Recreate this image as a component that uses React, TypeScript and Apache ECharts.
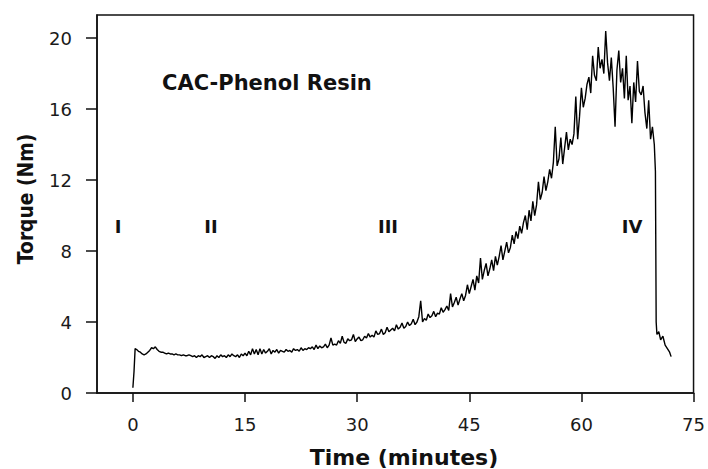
import React, { useEffect, useRef } from "react";
import * as echarts from "echarts";

// Tick labels
const xTicks = [0, 15, 30, 45, 60, 75];
const yTicks = [0, 4, 8, 12, 16, 20];

// Onset of the torque trace (time in minutes, torque in Nm)
const onsetTimes = [0, 0.15, 0.3];
const onsetTorque = [0.3, 1.2, 2.5];

// Main torque trace, sampled every 0.25 min starting at 0.5 min
const mainStart = 0.5;
const mainStep = 0.25;
const mainTorque = [
  2.45, 2.35,
  2.3, 2.2, 2.15, 2.2,
  2.3, 2.4, 2.55, 2.5,
  2.6, 2.45, 2.35, 2.3,
  2.3, 2.25, 2.2, 2.25,
  2.2, 2.2, 2.15, 2.2,
  2.15, 2.15, 2.1, 2.15,
  2.1, 2.1, 2.15, 2.1,
  2.05, 2.1, 2.0, 2.1,
  2.05, 2.15, 2.0, 2.05,
  2.1, 2.0, 2.1, 2.05,
  1.95, 2.1, 2.0, 2.15,
  2.05, 2.1, 2.0, 2.15,
  2.05, 2.2, 2.1, 2.05,
  2.15, 2.0, 2.2, 2.1,
  2.25, 2.1, 2.35, 2.15,
  2.5, 2.2, 2.45, 2.15,
  2.5, 2.2, 2.45, 2.25,
  2.35, 2.5, 2.2, 2.4,
  2.3, 2.45, 2.25, 2.4,
  2.35, 2.3, 2.45, 2.35,
  2.4, 2.3, 2.5, 2.4,
  2.45, 2.35, 2.55, 2.4,
  2.5, 2.45, 2.55, 2.5,
  2.6, 2.45, 2.7, 2.5,
  2.65, 2.55, 2.6, 2.75,
  2.55, 2.7, 3.1, 2.7,
  2.75, 2.7, 2.95, 2.8,
  3.2, 2.85, 2.8, 3.05,
  2.95, 3.0, 3.3, 2.9,
  3.05, 3.15, 2.95, 3.0,
  3.2, 3.1, 3.35, 3.15,
  3.25, 3.15, 3.5, 3.3,
  3.35, 3.6, 3.3, 3.4,
  3.7, 3.45, 3.55, 3.65,
  3.5, 3.85, 3.6, 3.7,
  3.95, 3.65, 3.75, 4.0,
  3.8, 3.9, 4.15, 3.85,
  4.0, 4.3, 5.2, 4.0,
  4.2, 4.1, 4.45, 4.25,
  4.35, 4.6, 4.3, 4.5,
  4.45, 4.8, 4.55, 4.7,
  4.9, 4.65, 5.6, 4.85,
  5.1, 5.4, 4.95, 5.3,
  5.6, 5.2, 5.5, 6.1,
  5.6, 6.0, 6.4, 5.8,
  6.6, 6.2, 7.6, 6.4,
  6.9, 7.3, 6.6, 7.0,
  7.5, 6.9, 7.7, 7.2,
  7.7, 8.3, 7.5, 8.0,
  8.5, 7.9, 8.2, 8.9,
  8.4, 9.1, 8.7, 9.4,
  9.0, 9.6, 10.0, 9.2,
  10.3, 9.7, 10.8, 10.0,
  10.6, 11.9, 10.9, 11.3,
  12.2, 11.4, 11.9, 12.6,
  12.1, 13.0, 15.0, 12.8,
  13.2, 14.4, 12.9, 13.8,
  14.7, 13.7, 14.3, 14.0,
  14.6, 16.7, 14.3, 15.6,
  17.2, 16.1, 16.6, 17.4,
  17.8, 16.9, 19.0, 17.9,
  17.6, 19.5, 18.3, 18.8,
  18.0, 20.4, 18.6, 17.6,
  18.9, 17.2, 15.0, 18.2,
  19.3, 17.5, 18.3, 16.6,
  19.0, 16.5, 17.3, 15.2,
  17.5, 16.4, 18.7, 17.0,
  16.8, 17.3, 15.8, 14.9,
  16.5, 14.3, 15.0, 14.0,
];

// Sharp drop at the end of the run and the tail
const tailTimes = [69.9, 70.0, 70.1, 70.35, 70.6, 70.9, 71.2, 71.5, 71.8, 72.0];
const tailTorque = [12.5, 4.0, 3.3, 3.45, 3.0, 3.2, 2.7, 2.5, 2.3, 2.05];

// Stage labels
const stageLabels = ["I", "II", "III", "IV"];
const stageLabelX = [118, 211, 388, 632];

export default function App() {
  const ref = useRef<HTMLDivElement>(null);

  useEffect(() => {
    if (!ref.current) return;
    const chart = echarts.init(ref.current, null, { renderer: "svg" });

    const data: number[][] = [];
    onsetTimes.forEach((t, i) => data.push([t, onsetTorque[i]]));
    mainTorque.forEach((v, i) => data.push([mainStart + i * mainStep, v]));
    tailTimes.forEach((t, i) => data.push([t, tailTorque[i]]));

    const axisColor = "#111";
    const labelFont = {
      color: "#1a1a1a",
      fontSize: 18,
      fontFamily: "DejaVu Sans",
    };

    chart.setOption({
      animation: false,
      backgroundColor: "#fff",
      grid: {
        left: 97,
        right: 13,
        top: 15,
        bottom: 76,
        show: true,
        borderColor: axisColor,
        borderWidth: 1.5,
        backgroundColor: "transparent",
      },
      xAxis: {
        type: "value",
        min: -4.8,
        max: 75,
        splitLine: { show: false },
        axisLine: { show: true, onZero: false, lineStyle: { color: axisColor, width: 1.5 } },
        axisTick: {
          show: true,
          length: 9,
          customValues: xTicks,
          lineStyle: { color: axisColor, width: 1.5 },
        },
        axisLabel: { ...labelFont, margin: 22, customValues: xTicks },
      },
      yAxis: {
        type: "value",
        min: 0,
        max: 21.3,
        splitLine: { show: false },
        axisLine: { show: true, onZero: false, lineStyle: { color: axisColor, width: 1.5 } },
        axisTick: {
          show: true,
          length: 11,
          customValues: yTicks,
          lineStyle: { color: axisColor, width: 1.5 },
        },
        axisLabel: { ...labelFont, margin: 25, customValues: yTicks },
      },
      series: [
        {
          type: "line",
          data,
          showSymbol: false,
          symbol: "none",
          lineStyle: { color: "#000", width: 1.4 },
          z: 3,
        },
      ],
      graphic: [
        {
          type: "text",
          x: 404,
          y: 457,
          style: {
            text: "Time (minutes)",
            font: "bold 22px 'DejaVu Sans'",
            fill: "#111",
            align: "center",
            verticalAlign: "middle",
          },
        },
        {
          type: "text",
          x: 25,
          y: 199,
          rotation: Math.PI / 2,
          scaleX: 0.85,
          style: {
            text: "Torque (Nm)",
            font: "bold 22px 'DejaVu Sans'",
            fill: "#111",
            align: "center",
            verticalAlign: "middle",
          },
        },
        {
          type: "text",
          x: 162,
          y: 83,
          style: {
            text: "CAC-Phenol Resin",
            font: "bold 21px 'DejaVu Sans'",
            fill: "#111",
            align: "left",
            verticalAlign: "middle",
          },
        },
        ...stageLabels.map((s, i) => ({
          type: "text",
          x: stageLabelX[i],
          y: 226,
          style: {
            text: s,
            font: "bold 18px 'DejaVu Sans'",
            fill: "#111",
            align: "center",
            verticalAlign: "middle",
          },
        })),
      ],
    });

    return () => chart.dispose();
  }, []);

  return (
    <div
      ref={ref}
      style={{ position: "absolute", left: 0, top: 0, width: 708, height: 469 }}
    />
  );
}
